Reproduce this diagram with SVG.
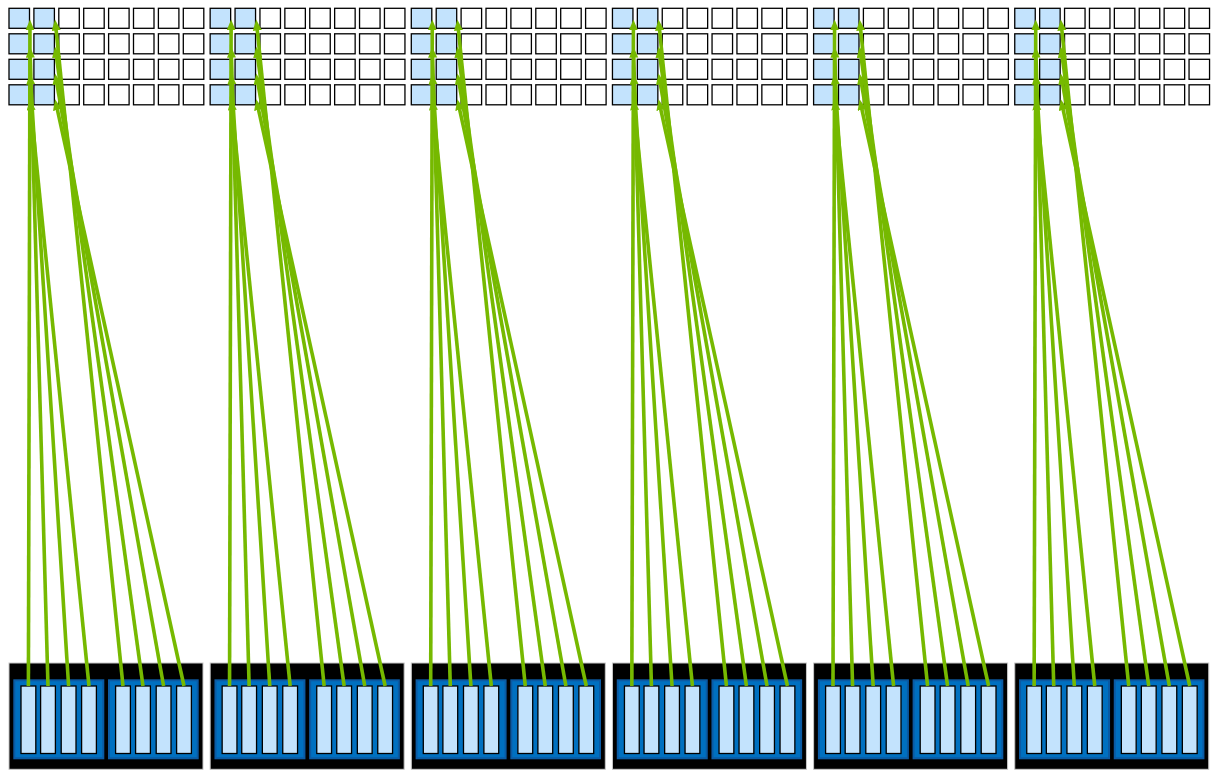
<svg xmlns="http://www.w3.org/2000/svg" xmlns:xlink="http://www.w3.org/1999/xlink" width="1216" height="777" viewBox="0 0 1216 777">
<style>
.cell{fill:#ffffff;stroke:#000;stroke-width:1.3}
.cell.hl{fill:#c3e3fd}
.base{fill:#000;stroke:#c8c8c8;stroke-width:1}
.blk{fill:#0070c0;stroke:#0b5aa3;stroke-width:2}
.bar{fill:#c3e3fd;stroke:#000;stroke-width:1.3}
</style>
<defs>
<marker id="ah" markerUnits="userSpaceOnUse" markerWidth="12" markerHeight="10" refX="0.5" refY="4.5" orient="auto" viewBox="0 0 12 10">
<path d="M0,0 L11,4.5 L0,9 z" fill="#76b900"/>
</marker>
<g id="grid">
<rect class="cell hl" x="0" y="8.3" width="20.5" height="20"/><rect class="cell hl" x="24.9" y="8.3" width="20.5" height="20"/><rect class="cell" x="49.8" y="8.3" width="20.5" height="20"/><rect class="cell" x="74.7" y="8.3" width="20.5" height="20"/><rect class="cell" x="99.6" y="8.3" width="20.5" height="20"/><rect class="cell" x="124.5" y="8.3" width="20.5" height="20"/><rect class="cell" x="149.4" y="8.3" width="20.5" height="20"/><rect class="cell" x="174.3" y="8.3" width="20.5" height="20"/>
<rect class="cell hl" x="0" y="33.8" width="20.5" height="20"/><rect class="cell hl" x="24.9" y="33.8" width="20.5" height="20"/><rect class="cell" x="49.8" y="33.8" width="20.5" height="20"/><rect class="cell" x="74.7" y="33.8" width="20.5" height="20"/><rect class="cell" x="99.6" y="33.8" width="20.5" height="20"/><rect class="cell" x="124.5" y="33.8" width="20.5" height="20"/><rect class="cell" x="149.4" y="33.8" width="20.5" height="20"/><rect class="cell" x="174.3" y="33.8" width="20.5" height="20"/>
<rect class="cell hl" x="0" y="59.3" width="20.5" height="20"/><rect class="cell hl" x="24.9" y="59.3" width="20.5" height="20"/><rect class="cell" x="49.8" y="59.3" width="20.5" height="20"/><rect class="cell" x="74.7" y="59.3" width="20.5" height="20"/><rect class="cell" x="99.6" y="59.3" width="20.5" height="20"/><rect class="cell" x="124.5" y="59.3" width="20.5" height="20"/><rect class="cell" x="149.4" y="59.3" width="20.5" height="20"/><rect class="cell" x="174.3" y="59.3" width="20.5" height="20"/>
<rect class="cell hl" x="0" y="84.8" width="20.5" height="20"/><rect class="cell hl" x="24.9" y="84.8" width="20.5" height="20"/><rect class="cell" x="49.8" y="84.8" width="20.5" height="20"/><rect class="cell" x="74.7" y="84.8" width="20.5" height="20"/><rect class="cell" x="99.6" y="84.8" width="20.5" height="20"/><rect class="cell" x="124.5" y="84.8" width="20.5" height="20"/><rect class="cell" x="149.4" y="84.8" width="20.5" height="20"/><rect class="cell" x="174.3" y="84.8" width="20.5" height="20"/>
</g>
<g id="unit">
<rect class="base" x="0" y="663" width="194" height="106.3"/>
<rect class="blk" x="5.3" y="680.3" width="89" height="78"/>
<rect class="blk" x="100" y="680.3" width="88.7" height="78"/>
<rect class="bar" x="12" y="686" width="14.8" height="67.5"/>
<rect class="bar" x="31.6" y="686" width="14.8" height="67.5"/>
<rect class="bar" x="52.2" y="686" width="14.8" height="67.5"/>
<rect class="bar" x="72.6" y="686" width="14.8" height="67.5"/>
<rect class="bar" x="106.6" y="686" width="14.8" height="67.5"/>
<rect class="bar" x="126.6" y="686" width="14.8" height="67.5"/>
<rect class="bar" x="147.2" y="686" width="14.8" height="67.5"/>
<rect class="bar" x="167.6" y="686" width="14.8" height="67.5"/>
</g>
</defs>
<rect x="0" y="0" width="1216" height="777" fill="#ffffff"/>
<g id="node-grid-1" transform="translate(9,0)"><use xlink:href="#grid"/></g>
<g id="node-grid-2" transform="translate(210.15,0)"><use xlink:href="#grid"/></g>
<g id="node-grid-3" transform="translate(411.3,0)"><use xlink:href="#grid"/></g>
<g id="node-grid-4" transform="translate(612.45,0)"><use xlink:href="#grid"/></g>
<g id="node-grid-5" transform="translate(813.6,0)"><use xlink:href="#grid"/></g>
<g id="node-grid-6" transform="translate(1014.75,0)"><use xlink:href="#grid"/></g>
<g id="node-unit-1" transform="translate(9,0)"><use xlink:href="#unit"/></g>
<g id="node-unit-2" transform="translate(210.15,0)"><use xlink:href="#unit"/></g>
<g id="node-unit-3" transform="translate(411.3,0)"><use xlink:href="#unit"/></g>
<g id="node-unit-4" transform="translate(612.45,0)"><use xlink:href="#unit"/></g>
<g id="node-unit-5" transform="translate(813.6,0)"><use xlink:href="#unit"/></g>
<g id="node-unit-6" transform="translate(1014.75,0)"><use xlink:href="#unit"/></g>
<g id="connectors" stroke="#76b900" stroke-width="3.6" fill="none" marker-end="url(#ah)">
<g transform="translate(9,0)">
<line x1="19.4" y1="686" x2="20.97" y2="30.0"/><line x1="39" y1="686" x2="21.30" y2="57.2"/><line x1="59.6" y1="686" x2="21.67" y2="83.98"/><line x1="80" y1="686" x2="22.07" y2="109.65"/><line x1="114" y1="686" x2="47.09" y2="29.94"/><line x1="134" y1="686" x2="47.46" y2="57.1"/><line x1="154.6" y1="686" x2="47.87" y2="83.84"/><line x1="175" y1="686" x2="48.30" y2="109.45"/>
</g>
<g transform="translate(210.15,0)">
<line x1="19.4" y1="686" x2="20.97" y2="30.0"/><line x1="39" y1="686" x2="21.30" y2="57.2"/><line x1="59.6" y1="686" x2="21.67" y2="83.98"/><line x1="80" y1="686" x2="22.07" y2="109.65"/><line x1="114" y1="686" x2="47.09" y2="29.94"/><line x1="134" y1="686" x2="47.46" y2="57.1"/><line x1="154.6" y1="686" x2="47.87" y2="83.84"/><line x1="175" y1="686" x2="48.30" y2="109.45"/>
</g>
<g transform="translate(411.3,0)">
<line x1="19.4" y1="686" x2="20.97" y2="30.0"/><line x1="39" y1="686" x2="21.30" y2="57.2"/><line x1="59.6" y1="686" x2="21.67" y2="83.98"/><line x1="80" y1="686" x2="22.07" y2="109.65"/><line x1="114" y1="686" x2="47.09" y2="29.94"/><line x1="134" y1="686" x2="47.46" y2="57.1"/><line x1="154.6" y1="686" x2="47.87" y2="83.84"/><line x1="175" y1="686" x2="48.30" y2="109.45"/>
</g>
<g transform="translate(612.45,0)">
<line x1="19.4" y1="686" x2="20.97" y2="30.0"/><line x1="39" y1="686" x2="21.30" y2="57.2"/><line x1="59.6" y1="686" x2="21.67" y2="83.98"/><line x1="80" y1="686" x2="22.07" y2="109.65"/><line x1="114" y1="686" x2="47.09" y2="29.94"/><line x1="134" y1="686" x2="47.46" y2="57.1"/><line x1="154.6" y1="686" x2="47.87" y2="83.84"/><line x1="175" y1="686" x2="48.30" y2="109.45"/>
</g>
<g transform="translate(813.6,0)">
<line x1="19.4" y1="686" x2="20.97" y2="30.0"/><line x1="39" y1="686" x2="21.30" y2="57.2"/><line x1="59.6" y1="686" x2="21.67" y2="83.98"/><line x1="80" y1="686" x2="22.07" y2="109.65"/><line x1="114" y1="686" x2="47.09" y2="29.94"/><line x1="134" y1="686" x2="47.46" y2="57.1"/><line x1="154.6" y1="686" x2="47.87" y2="83.84"/><line x1="175" y1="686" x2="48.30" y2="109.45"/>
</g>
<g transform="translate(1014.75,0)">
<line x1="19.4" y1="686" x2="20.97" y2="30.0"/><line x1="39" y1="686" x2="21.30" y2="57.2"/><line x1="59.6" y1="686" x2="21.67" y2="83.98"/><line x1="80" y1="686" x2="22.07" y2="109.65"/><line x1="114" y1="686" x2="47.09" y2="29.94"/><line x1="134" y1="686" x2="47.46" y2="57.1"/><line x1="154.6" y1="686" x2="47.87" y2="83.84"/><line x1="175" y1="686" x2="48.30" y2="109.45"/>
</g>
</g>
</svg>
